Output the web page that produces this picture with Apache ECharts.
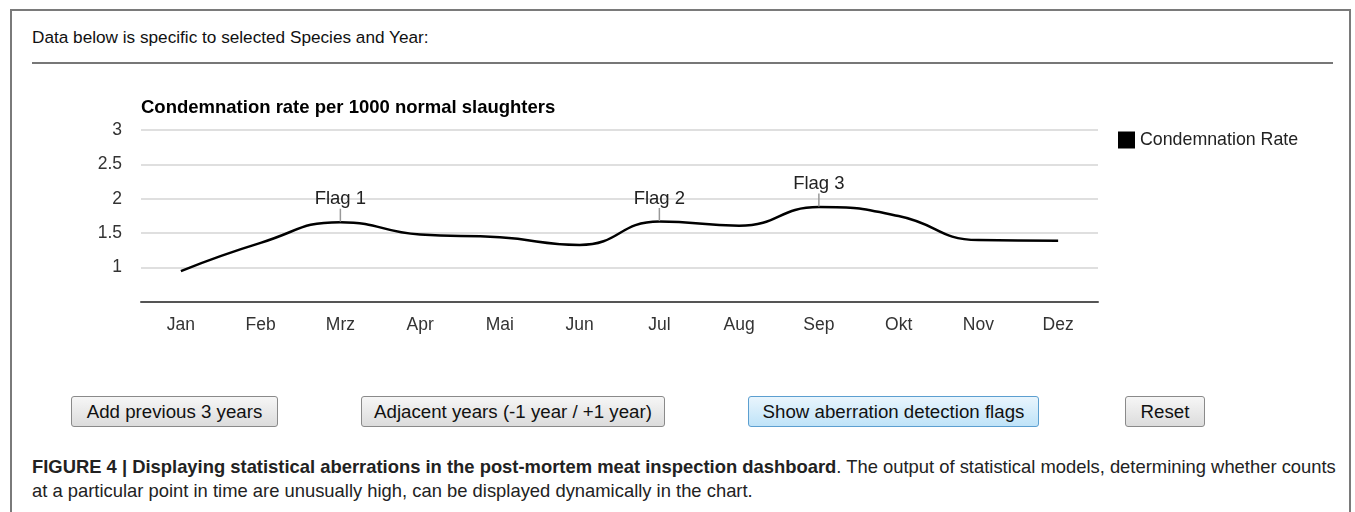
<!DOCTYPE html>
<html>
<head>
<meta charset="utf-8">
<script src="https://cdn.jsdelivr.net/npm/echarts@6/dist/echarts.min.js"></script>
<style>
  html, body { margin: 0; padding: 0; background: #fff; }
  body { width: 1355px; height: 512px; position: relative; overflow: hidden; font-family: "Liberation Sans", Arial, sans-serif; }
  .frame { position: absolute; left: 10px; top: 9px; width: 1341px; height: 520px; border: 2px solid #7a7a7a; box-sizing: border-box; }
  .head { position: absolute; left: 32px; top: 27px; font-size: 17.2px; color: #111; white-space: nowrap; }
  .sep { position: absolute; left: 32px; top: 62px; width: 1301px; height: 2px; background: #777; }
  #chart { position: absolute; left: 0; top: 80px; width: 1355px; height: 280px; }
  .btn { position: absolute; top: 396px; height: 31px; box-sizing: border-box; border: 1px solid #8a8a8a; border-radius: 3px;
         background: linear-gradient(#f6f6f6, #dcdcdc); font-size: 18.7px; color: #111; text-align: center; line-height: 29px; white-space: nowrap; }
  .btn.blue { border-color: #5c9fd0; background: linear-gradient(#e9f5fd, #bfe3f8); }
  .cap { position: absolute; left: 32px; top: 455px; font-size: 18.4px; line-height: 24px; color: #222; white-space: nowrap; }
</style>
</head>
<body>
<div class="frame"></div>
<div class="head">Data below is specific to selected Species and Year:</div>
<div class="sep"></div>
<div id="chart"></div>
<div class="btn" style="left:71px;width:207px;">Add previous 3 years</div>
<div class="btn" style="left:361px;width:304px;">Adjacent years (-1 year / +1 year)</div>
<div class="btn blue" style="left:748px;width:291px;">Show aberration detection flags</div>
<div class="btn" style="left:1125px;width:80px;">Reset</div>
<div class="cap"><b>FIGURE 4 | Displaying statistical aberrations in the post-mortem meat inspection dashboard</b>. The output of statistical models, determining whether counts<br>at a particular point in time are unusually high, can be displayed dynamically in the chart.</div>
<script>
var months = ['Jan', 'Feb', 'Mrz', 'Apr', 'Mai', 'Jun', 'Jul', 'Aug', 'Sep', 'Okt', 'Nov', 'Dez'];
var rates = [0.95, 1.36, 1.66, 1.48, 1.44, 1.33, 1.67, 1.61, 1.88, 1.75, 1.40, 1.39];
var flagMonths = ['Mrz', 'Jul', 'Sep'];
var flagNames = ['Flag 1', 'Flag 2', 'Flag 3'];

var chart = echarts.init(document.getElementById('chart'));

var flags = flagMonths.map(function (m, i) {
  return {
    name: flagNames[i],
    coord: [m, rates[months.indexOf(m)]]
  };
});

var option = {
  animation: false,
  textStyle: { fontFamily: 'Liberation Sans, Arial, sans-serif' },
  title: {
    text: 'Condemnation rate per 1000 normal slaughters',
    left: 136,
    top: 13,
    textStyle: { fontSize: 18.5, fontWeight: 'bold', color: '#000' }
  },
  legend: {
    left: 1113,
    top: 46,
    itemWidth: 17,
    itemHeight: 17,
    itemGap: 8,
    icon: 'rect',
    textStyle: { fontSize: 17.8, color: '#222' },
    data: ['Condemnation Rate']
  },
  grid: { left: 141, right: 257, top: 50, height: 172 },
  xAxis: {
    type: 'category',
    data: months,
    boundaryGap: true,
    axisLine: { lineStyle: { color: '#555', width: 2 } },
    axisTick: { show: false },
    axisLabel: { fontSize: 17.5, color: '#333', margin: 14 }
  },
  yAxis: {
    type: 'value',
    min: 0.5,
    max: 3,
    interval: 0.5,
    axisLine: { show: false },
    axisTick: { show: false },
    axisLabel: {
      fontSize: 17.5, color: '#333', margin: 19,
      formatter: function (v) { return v < 1 ? '' : String(v); }
    },
    splitLine: { lineStyle: { color: '#d4d4d4', width: 1.5 } }
  },
  series: [{
    name: 'Condemnation Rate',
    type: 'line',
    data: rates,
    smooth: 0.5,
    symbol: 'none',
    itemStyle: { color: '#000' },
    lineStyle: { color: '#000', width: 2.5 },
    markPoint: {
      symbol: 'rect',
      symbolSize: [1.5, 13],
      symbolOffset: [0, -7],
      itemStyle: { color: '#999' },
      label: {
        show: true,
        position: 'top',
        distance: 0,
        formatter: '{b}',
        fontSize: 18.5,
        color: '#222'
      },
      data: flags
    }
  }]
};

chart.setOption(option);
</script>
</body>
</html>
